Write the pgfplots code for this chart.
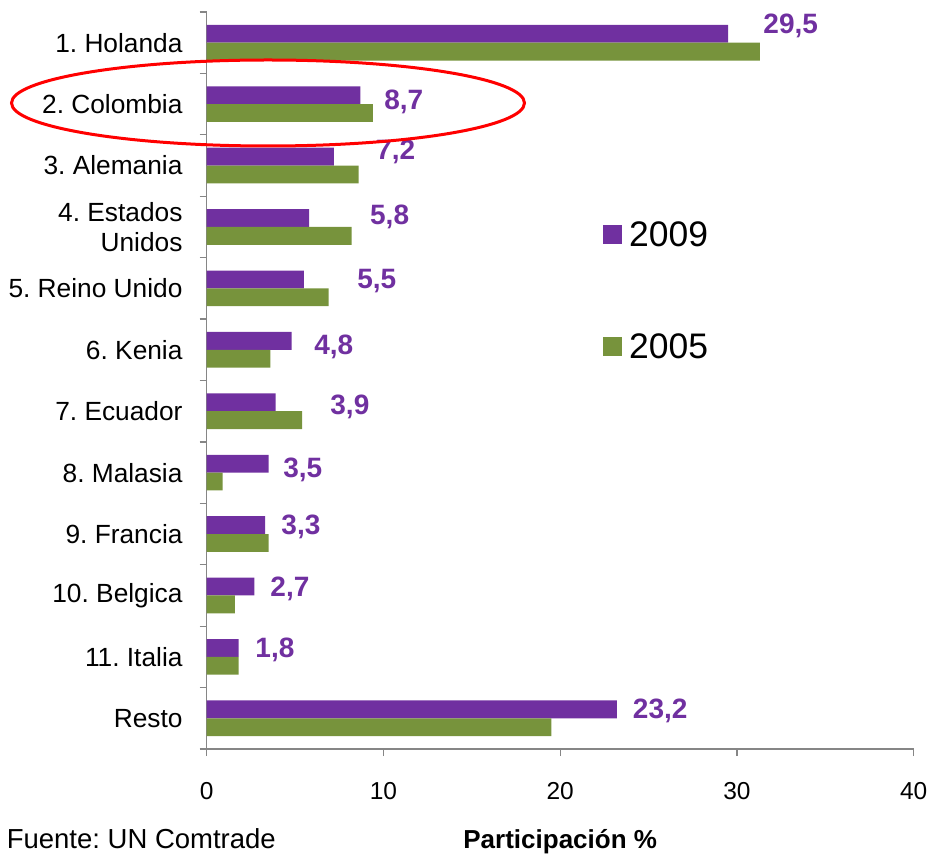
\documentclass[border=0pt]{standalone}
\usepackage{pgfplots}
\pgfplotsset{compat=1.18}
\usepackage{fontspec}
\setmainfont{Liberation Sans}
\definecolor{c2009}{HTML}{7030A0}
\definecolor{c2005}{HTML}{77933C}
\definecolor{axgray}{HTML}{868686}
\frenchspacing
\begin{document}
\frenchspacing
\begin{tikzpicture}
\path[use as bounding box] (0pt,0pt) rectangle (934pt,855pt);
\begin{axis}[
  at={(206.7pt,106pt)}, anchor=south west,
  scale only axis, width=707pt, height=737pt,
  xmin=0, xmax=40, ymin=-0.5, ymax=11.5,
  axis x line*=bottom, axis y line*=left,
  axis line style={axgray, line width=1.3pt},
  xtick={0,10,20,30,40},
  ytick={0,...,11},
  yticklabels={Resto,11. Italia,10. Belgica,9. Francia,8. Malasia,7. Ecuador,6. Kenia,5. Reino Unido,{4. Estados\\Unidos},3. Alemania,2. Colombia,1. Holanda},
  minor ytick={-0.5,0.5,...,11.5},
  tick align=outside,
  major tick length=7pt, minor tick length=7pt,
  major x tick style={axgray, line width=1.3pt},
  major y tick style={draw=none},
  minor y tick style={axgray, line width=1.3pt},
  /pgf/number format/assume math mode=true,
  xticklabel style={font=\fontsize{24.5}{28}\selectfont, inner sep=0pt, yshift=-26pt},
  yticklabel style={font=\fontsize{26.3}{30}\selectfont\frenchspacing, align=right, inner sep=0pt, xshift=-17pt},
  xlabel={\textbf{Participación \%}},
  xlabel style={font=\fontsize{26}{30}\selectfont, at={(axis description cs:0.5,0)}, anchor=base, yshift=-99pt},
  legend style={draw=none, fill=none, at={(0.5605,0.7164)}, anchor=north west, inner sep=0pt, row sep=86pt, font=\fontsize{35.5}{40}\selectfont, nodes={inner sep=0pt}},
  legend cell align=left,
]
\addplot[xbar, bar width=0.29, bar shift=0.145, fill=c2009, draw=none,
  legend image code/.code={\fill[c2009] (0pt,-9.5pt) rectangle (19pt,9.5pt);}]
  coordinates {(29.5,11) (8.7,10) (7.2,9) (5.8,8) (5.5,7) (4.8,6) (3.9,5) (3.5,4) (3.3,3) (2.7,2) (1.8,1) (23.2,0)};
\addlegendentry{\hspace{7pt}2009}
\addplot[xbar, bar width=0.29, bar shift=-0.145, fill=c2005, draw=none,
  legend image code/.code={\fill[c2005] (0pt,-9.5pt) rectangle (19pt,9.5pt);}]
  coordinates {(31.3,11) (9.4,10) (8.6,9) (8.2,8) (6.9,7) (3.6,6) (5.4,5) (0.9,4) (3.5,3) (1.6,2) (1.8,1) (19.5,0)};
\addlegendentry{\hspace{7pt}2005}
\addplot[draw=none, mark=none, forget plot, nodes near coords, point meta=explicit symbolic,
  nodes near coords style={anchor=center, inner sep=0pt, font=\fontsize{28}{32}\bfseries, text=c2009}]
  table[meta=label] {
x y label
33.04 11.28 29,5
11.15 10.034 8,7
10.69 9.22 7,2
10.35 8.16 5,8
9.62 7.12 5,5
7.19 6.04 4,8
8.10 5.07 3,9
5.44 4.04 3,5
5.33 3.11 3,3
4.71 2.10 2,7
3.86 1.11 1,8
25.66 0.12 23,2
};
\end{axis}
\node[anchor=base east, font=\fontsize{27.5}{32}\selectfont\frenchspacing, inner sep=0pt] at (276pt,7pt) {Fuente: UN Comtrade};
\draw[red, line width=3pt] (268pt,752pt) ellipse [x radius=256.5pt, y radius=43pt];
\end{tikzpicture}
\end{document}
